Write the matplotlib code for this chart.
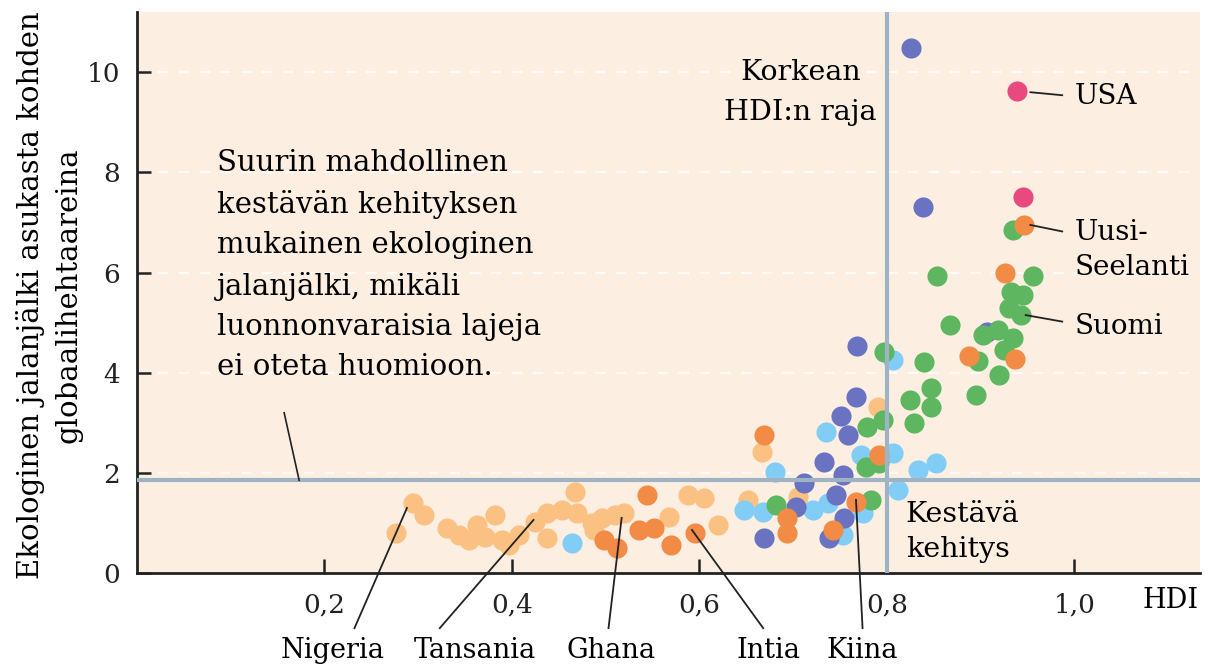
import numpy as np
import matplotlib
matplotlib.use('Agg')
import matplotlib.pyplot as plt

# HDI (x) and ecological footprint in gha per person (y), by region colour
africa_x = [0.276, 0.294, 0.306, 0.331, 0.344, 0.354, 0.363, 0.371, 0.382, 0.389,
            0.397, 0.407, 0.425, 0.437, 0.437, 0.453, 0.467, 0.469, 0.485, 0.496,
            0.510, 0.520, 0.488, 0.568, 0.588, 0.605, 0.620, 0.652, 0.667, 0.705, 0.790]
africa_y = [0.80, 1.40, 1.16, 0.90, 0.76, 0.66, 0.96, 0.72, 1.16, 0.66,
            0.56, 0.76, 1.02, 1.20, 0.70, 1.26, 1.62, 1.20, 1.00, 1.10,
            1.16, 1.20, 0.86, 1.12, 1.56, 1.50, 0.96, 1.46, 2.42, 1.52, 3.32]

asia_x = [0.544, 0.498, 0.512, 0.536, 0.552, 0.570, 0.595, 0.669, 0.693, 0.693,
          0.743, 0.767, 0.792, 0.946, 0.926, 0.888, 0.937]
asia_y = [1.56, 0.66, 0.50, 0.86, 0.90, 0.56, 0.80, 2.76, 1.10, 0.80,
          0.86, 1.42, 2.36, 6.95, 5.99, 4.33, 4.27]

latam_x = [0.464, 0.648, 0.668, 0.681, 0.721, 0.735, 0.737, 0.753, 0.775, 0.772,
           0.806, 0.807, 0.812, 0.833, 0.852]
latam_y = [0.60, 1.26, 1.22, 2.02, 1.26, 2.81, 1.40, 0.76, 1.20, 2.36,
           4.25, 2.40, 1.66, 2.06, 2.20]

mideast_x = [0.826, 0.838, 0.768, 0.767, 0.751, 0.759, 0.733, 0.753, 0.712, 0.746,
             0.703, 0.754, 0.669, 0.738, 0.907]
mideast_y = [10.48, 7.31, 4.53, 3.51, 3.13, 2.75, 2.22, 1.96, 1.80, 1.56,
             1.32, 1.10, 0.70, 0.70, 4.81]

europe_x = [0.682, 0.783, 0.778, 0.792, 0.779, 0.796, 0.797, 0.825, 0.847, 0.847,
            0.829, 0.840, 0.867, 0.853, 0.895, 0.920, 0.897, 0.925, 0.935, 0.903,
            0.919, 0.930, 0.943, 0.932, 0.945, 0.956, 0.934]
europe_y = [1.36, 1.46, 2.12, 2.20, 2.91, 3.05, 4.41, 3.45, 3.69, 3.31,
            2.99, 4.21, 4.95, 5.93, 3.55, 3.95, 4.23, 4.45, 4.69, 4.75,
            4.85, 5.29, 5.15, 5.61, 5.55, 5.93, 6.85]

namerica_x = [0.939, 0.945]
namerica_y = [9.62, 7.50]

sustainable_limit = 1.85
high_hdi = 0.8

bottom_names = ['Nigeria', 'Tansania', 'Ghana', 'Intia', 'Kiina']
bottom_label_x = [0.209, 0.360, 0.506, 0.674, 0.774]
bottom_line_x0 = [0.232, 0.323, 0.503, 0.668, 0.774]
bottom_point_x = [0.288, 0.423, 0.517, 0.592, 0.767]
bottom_point_y = [1.30, 1.06, 1.10, 0.86, 1.46]

right_names = ['USA', 'Uusi-\nSeelanti', 'Suomi']
right_point_x = [0.953, 0.953, 0.948]
right_point_y = [9.60, 6.95, 5.15]
right_label_y = [9.52, 6.45, 4.92]
right_line_y1 = [9.54, 6.82, 5.02]

bg = '#fcefe2'
line_col = '#9fb3c4'
plt.rcParams['font.family'] = 'DejaVu Serif'

fig = plt.figure(figsize=(12.08, 6.71), dpi=100)
ax = fig.add_axes([0.1134, 0.146, 0.88, 0.836])
ax.set_facecolor(bg)

ax.set_xlim(0, 1.134)
ax.set_ylim(0, 11.2)

for yy in [2, 4, 6, 8, 10]:
    ax.axhline(yy, color='white', lw=1.5, ls=(0, (5, 5)), alpha=0.8, zorder=1)

s = 210
ax.scatter(africa_x, africa_y, s=s, color='#fbc182', lw=0, zorder=3)
ax.scatter(asia_x, asia_y, s=s, color='#f18b45', lw=0, zorder=4)
ax.scatter(latam_x, latam_y, s=s, color='#82cdf6', lw=0, zorder=3)
ax.scatter(mideast_x, mideast_y, s=s, color='#6a73c2', lw=0, zorder=3)
ax.scatter(europe_x, europe_y, s=s, color='#5eb660', lw=0, zorder=3)
ax.scatter(namerica_x, namerica_y, s=s, color='#e84a7f', lw=0, zorder=4)

ax.axhline(sustainable_limit, color=line_col, lw=3, zorder=5)
ax.axvline(high_hdi, color=line_col, lw=3, zorder=5)

for sp in ['top', 'right']:
    ax.spines[sp].set_visible(False)
for sp in ['left', 'bottom']:
    ax.spines[sp].set_linewidth(2)
    ax.spines[sp].set_color('#222222')

ax.set_xticks([0.2, 0.4, 0.6, 0.8, 1.0])
ax.set_xticklabels(['0,2', '0,4', '0,6', '0,8', '1,0'])
ax.set_yticks([0, 2, 4, 6, 8, 10])
ax.tick_params(direction='in', length=10, width=1.8, labelsize=19, colors='#222222', pad=12)
ax.tick_params(axis='x', pad=14)
ax.text(1.133, -0.55, 'HDI', fontsize=19.5, ha='right', va='center', clip_on=False)

fig.text(0.0406, 0.56, 'Ekologinen jalanjälki asukasta kohden\nglobaalihehtaareina',
         rotation=90, ha='center', va='center', fontsize=21, linespacing=1.45)

ax.text(0.708, 9.6, 'Korkean\nHDI:n raja', fontsize=20.5, ha='center', va='center', linespacing=1.6)
ax.text(0.82, 0.82, 'Kestävä\nkehitys', fontsize=20.5, ha='left', va='center', linespacing=1.35)
ax.text(0.085, 6.15, 'Suurin mahdollinen\nkestävän kehityksen\nmukainen ekologinen\n'
        'jalanjälki, mikäli\nluonnonvaraisia lajeja\nei oteta huomioon.',
        fontsize=21, ha='left', va='center', linespacing=1.55)
ax.plot([0.173, 0.157], [sustainable_limit, 3.2], color='#222222', lw=1.2, zorder=6)

for name, lx, x0, px, py in zip(bottom_names, bottom_label_x, bottom_line_x0,
                                 bottom_point_x, bottom_point_y):
    ax.plot([x0, px], [-1.1, py], color='#222222', lw=1.3, clip_on=False, zorder=7)
    ax.text(lx, -1.55, name, fontsize=19.5, ha='center', va='center', clip_on=False)

for name, px, py, ly, y1 in zip(right_names, right_point_x, right_point_y,
                                right_label_y, right_line_y1):
    ax.plot([px, 0.987], [py, y1], color='#222222', lw=1.3, zorder=7)
    ax.text(1.0, ly, name, fontsize=20, ha='left', va='center', linespacing=1.4)

fig.savefig('out.png', dpi=100)
